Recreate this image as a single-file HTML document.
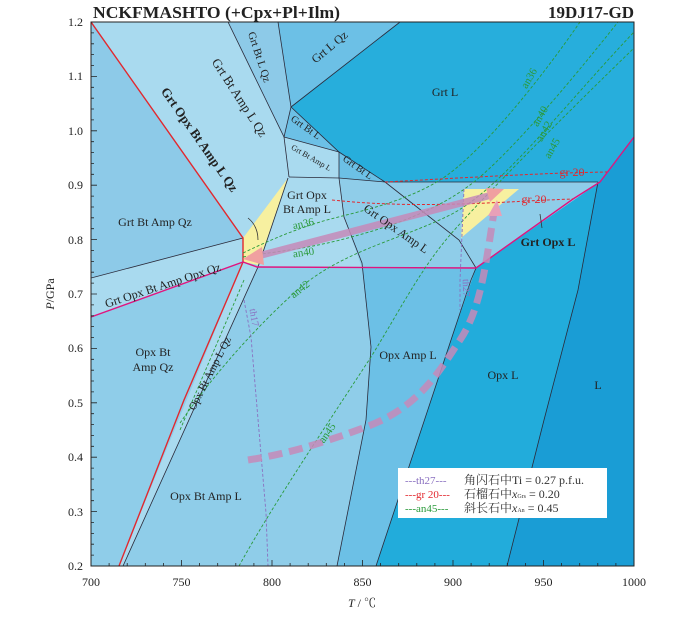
<!DOCTYPE html>
<html><head><meta charset="utf-8"><style>
body{margin:0;background:#fff;}
svg{display:block;font-family:"Liberation Serif","Noto Serif CJK SC",serif;}
</style></head><body>
<svg width="687" height="622" viewBox="0 0 687 622" xmlns="http://www.w3.org/2000/svg">
<defs><clipPath id="c"><rect x="91" y="22" width="543" height="544"/></clipPath></defs>
<g clip-path="url(#c)">
<rect x="91" y="22" width="543" height="544" fill="#8fcde9"/>
<polygon points="91,22 228,22 284,137 289,177 243,238" fill="#a9daef"/>
<polygon points="91,22 243,238 91,278" fill="#8dcae8"/>
<polygon points="91,278 243,238 243,262 91,317" fill="#a9daef"/>
<polygon points="228,22 278,22 291,107 284,137" fill="#8dcae8"/>
<polygon points="278,22 400,22 291,107" fill="#6cc0e6"/>
<polygon points="291,107 400,22 634,22 634,137 600,182 385,182 339,152" fill="#27aedc"/>
<polygon points="291,107 339,152 284,137" fill="#6cc0e6"/>
<polygon points="284,137 339,152 339,178 289,177" fill="#a9daef"/>
<polygon points="339,152 385,182 339,178" fill="#6cc0e6"/>
<polygon points="289,177 339,178 344,217 362,263 362,268 258,267" fill="#a9daef"/>
<polygon points="339,178 385,182 459,240 476,268 362,268 344,217" fill="#8fcde9"/>
<polygon points="385,182 598,182 600,182 476,268 459,240" fill="#8fcde9"/>
<polygon points="362,268 476,268 471,280 451,340 376,566 337,566 366,420 371,347" fill="#6cc0e6"/>
<polygon points="476,268 600,182 598,182 578,290 544,420 507,566 376,566 451,340" fill="#22acdb"/>
<polygon points="600,182 634,137 634,566 507,566 544,420 578,290 598,182" fill="#1a9dd5"/>
<polygon points="243,262 258,267 123,566 119,566" fill="#a9daef"/>
<polygon points="243,238 288,178 258,265 243,262" fill="#f7f0a0"/>
<polygon points="464,189 519,189 461,238" fill="#f7f0a0"/>
</g>
<g fill="none" stroke="#2a2a3a" stroke-width="0.8" clip-path="url(#c)">
<polyline points="91,278 243,238"/>
<polyline points="228,22 284,137 289,177"/>
<polyline points="278,22 291,107 284,137"/>
<polyline points="291,107 400,22"/>
<polyline points="291,107 339,152 385,182"/>
<polyline points="284,137 339,152 339,178"/>
<polyline points="289,177 339,178 385,182 598,182"/>
<polyline points="385,182 459,240 476,268"/>
<polyline points="288,178 258,267"/>
<polyline points="258,267 123,566"/>
<polyline points="339,178 344,217 362,263 371,347 366,420 337,566"/>
<polyline points="476,268 471,280 451,340 376,566"/>
<polyline points="598,182 578,290 544,420 507,566"/>
</g>
<g fill="none" clip-path="url(#c)">
<polyline points="91,22 243,238 243,262 232,288 184,400 119,566" stroke="#e2282e" stroke-width="1.4"/>
<polyline points="91,317 243,262 257,267 476,268 573,199 600,182 634,137" stroke="#e0157f" stroke-width="1.4"/>
<g stroke="#2a9a3a" stroke-width="0.9" stroke-dasharray="3,2">
<path d="M243,253 C270,240 294,230 320,222 S400,205 440,180 S540,80 580,22"/>
<path d="M243,257 C270,252 301,250 340,240 S430,215 470,185 S580,70 618,22"/>
<path d="M180,423 C210,380 248,335 294,293 S400,240 450,215 S560,110 634,32"/>
<path d="M239,566 C270,510 312,447 371,357 C400,310 420,270 450,235 S570,110 634,48"/>
<path d="M244,280 L180,430"/>
</g>
<path d="M385,182 C460,178 540,173 607,172" stroke="#e2282e" stroke-width="1" stroke-dasharray="3,2"/>
<path d="M332,200 C380,205 420,205 459,204 S540,200 573,199" stroke="#e2282e" stroke-width="1" stroke-dasharray="3,2"/>
<g stroke="#8a70c0" stroke-width="0.9" stroke-dasharray="3,2">
<path d="M244,300 L251,337 L266,513 L268,566"/>
<path d="M464,189 L460,280 L460,310"/>
</g>
<path d="M258,256 L492,195" stroke="#c58ab8" stroke-width="7" opacity="0.85"/>
<polygon points="243,259 262,247 264,265" fill="#f0a0a0"/>
<polygon points="504,189 486,188 490,202" fill="#f0a0a0"/>
<path d="M248,460 C280,455 312,447 366,427 S440,370 460,340 S485,270 494,212" stroke="#c58ab8" stroke-width="7" stroke-dasharray="14,7" opacity="0.85"/>
<polygon points="497,200 488,216 502,216" fill="#e8a0b8"/>
<path d="M258,240 Q258,226 248,218" stroke="#333" stroke-width="0.8"/>
<path d="M540,214 L542,228" stroke="#333" stroke-width="0.8"/>
</g>
<rect x="91" y="22" width="543" height="544" fill="none" stroke="#222" stroke-width="1"/>
<g stroke="#222" stroke-width="0.8">
<path d="M91,22h6M91,76.4h6M91,130.8h6M91,185.2h6M91,239.6h6M91,294h6M91,348.4h6M91,402.8h6M91,457.2h6M91,511.6h6
M91,32.9h3M91,43.8h3M91,54.6h3M91,65.5h3M91,87.3h3M91,98.2h3M91,109h3M91,119.9h3M91,141.7h3M91,152.6h3M91,163.4h3M91,174.3h3M91,196.1h3M91,207h3M91,217.8h3M91,228.7h3M91,250.5h3M91,261.4h3M91,272.2h3M91,283.1h3M91,304.9h3M91,315.8h3M91,326.6h3M91,337.5h3M91,359.3h3M91,370.2h3M91,381h3M91,391.9h3M91,413.7h3M91,424.6h3M91,435.4h3M91,446.3h3M91,468.1h3M91,479h3M91,489.8h3M91,500.7h3M91,522.5h3M91,533.4h3M91,544.2h3M91,555.1h3"/>
<path d="M181.5,566v-6M272,566v-6M362.5,566v-6M453,566v-6M543.5,566v-6
M109.1,566v-3M127.2,566v-3M145.3,566v-3M163.4,566v-3M199.6,566v-3M217.7,566v-3M235.8,566v-3M253.9,566v-3M290.1,566v-3M308.2,566v-3M326.3,566v-3M344.4,566v-3M380.6,566v-3M398.7,566v-3M416.8,566v-3M434.9,566v-3M471.1,566v-3M489.2,566v-3M507.3,566v-3M525.4,566v-3M561.6,566v-3M579.7,566v-3M597.8,566v-3M615.9,566v-3"/>
</g>
<g font-size="12" fill="#222" text-anchor="end">
<text x="83" y="26">1.2</text><text x="83" y="80">1.1</text><text x="83" y="135">1.0</text><text x="83" y="189">0.9</text><text x="83" y="244">0.8</text><text x="83" y="298">0.7</text><text x="83" y="352">0.6</text><text x="83" y="407">0.5</text><text x="83" y="461">0.4</text><text x="83" y="516">0.3</text><text x="83" y="570">0.2</text>
</g>
<g font-size="12" fill="#222" text-anchor="middle">
<text x="91" y="586">700</text><text x="181.5" y="586">750</text><text x="272" y="586">800</text><text x="362.5" y="586">850</text><text x="453" y="586">900</text><text x="543.5" y="586">950</text><text x="634" y="586">1000</text>
<text x="362" y="607"><tspan font-style="italic">T</tspan> / ℃</text>
<text transform="translate(54,294) rotate(-90)"><tspan font-style="italic">P</tspan>/GPa</text>
</g>
<text x="93" y="18" font-size="17" font-weight="bold" fill="#222" textLength="247" lengthAdjust="spacingAndGlyphs">NCKFMASHTO (+Cpx+Pl+Ilm)</text>
<text x="634" y="18" font-size="17" font-weight="bold" fill="#222" text-anchor="end">19DJ17-GD</text>
<g font-size="12" fill="#222" text-anchor="middle">
<text transform="translate(236,100) rotate(57)" font-size="13">Grt Bt Amp L Qz</text>
<text transform="translate(196,142) rotate(55)" font-weight="bold" font-size="13">Grt Opx Bt Amp L Qz</text>
<text transform="translate(256,58) rotate(72)" font-size="11">Grt Bt L Qz</text>
<text transform="translate(332,50) rotate(-40)">Grt L Qz</text>
<text x="445" y="96">Grt L</text>
<text transform="translate(304,130) rotate(35)" font-size="10">Grt Bt L</text>
<text transform="translate(310,160) rotate(30)" font-size="8">Grt Bt Amp L</text>
<text transform="translate(356,170) rotate(35)" font-size="10">Grt Bt L</text>
<text x="307" y="199">Grt Opx</text>
<text x="307" y="213">Bt Amp L</text>
<text transform="translate(394,232) rotate(35)">Grt Opx Amp L</text>
<text x="155" y="226">Grt Bt Amp Qz</text>
<text transform="translate(164,289) rotate(-18)">Grt Opx Bt Amp Opx Qz</text>
<text x="548" y="246" font-weight="bold">Grt Opx L</text>
<text x="153" y="356">Opx Bt</text>
<text x="153" y="371">Amp Qz</text>
<text transform="translate(213,375) rotate(-63)" font-size="11">Opx Bt Amp L Qz</text>
<text x="408" y="359">Opx Amp L</text>
<text x="503" y="379">Opx L</text>
<text x="598" y="389">L</text>
<text x="206" y="500">Opx Bt Amp L</text>
</g>
<g font-size="11" fill="#2a9a3a" text-anchor="middle">
<text transform="translate(304,227) rotate(-12)">an36</text>
<text transform="translate(304,256) rotate(-8)">an40</text>
<text transform="translate(302,292) rotate(-38)">an42</text>
<text transform="translate(330,435) rotate(-55)">an45</text>
<text transform="translate(532,80) rotate(-60)">an36</text>
<text transform="translate(543,118) rotate(-60)">an40</text>
<text transform="translate(547,133) rotate(-60)">an42</text>
<text transform="translate(555,150) rotate(-60)">an45</text>
</g>
<g font-size="12" fill="#e2282e" text-anchor="middle">
<text x="572" y="176">gr 20</text><text x="534" y="203">gr 20</text>
</g>
<g font-size="10" fill="#8a70c0" text-anchor="middle">
<text transform="translate(251,318) rotate(80)">th17</text>
<text transform="translate(463,288) rotate(88)">th27</text>
</g>
<rect x="398" y="468" width="209" height="50" fill="#fff"/>
<g font-size="12">
<text x="405" y="484" fill="#8a70c0" font-size="11">---th27---</text>
<text x="464" y="484" fill="#333">角闪石中Ti = 0.27 p.f.u.</text>
<text x="405" y="498" fill="#e2282e" font-size="11">---gr 20---</text>
<text x="464" y="498" fill="#333">石榴石中<tspan font-style="italic">x</tspan><tspan font-size="6">Grs</tspan> = 0.20</text>
<text x="405" y="512" fill="#2a9a3a" font-size="11">---an45---</text>
<text x="464" y="512" fill="#333">斜长石中<tspan font-style="italic">x</tspan><tspan font-size="6">An</tspan> = 0.45</text>
</g>
</svg>
</body></html>
